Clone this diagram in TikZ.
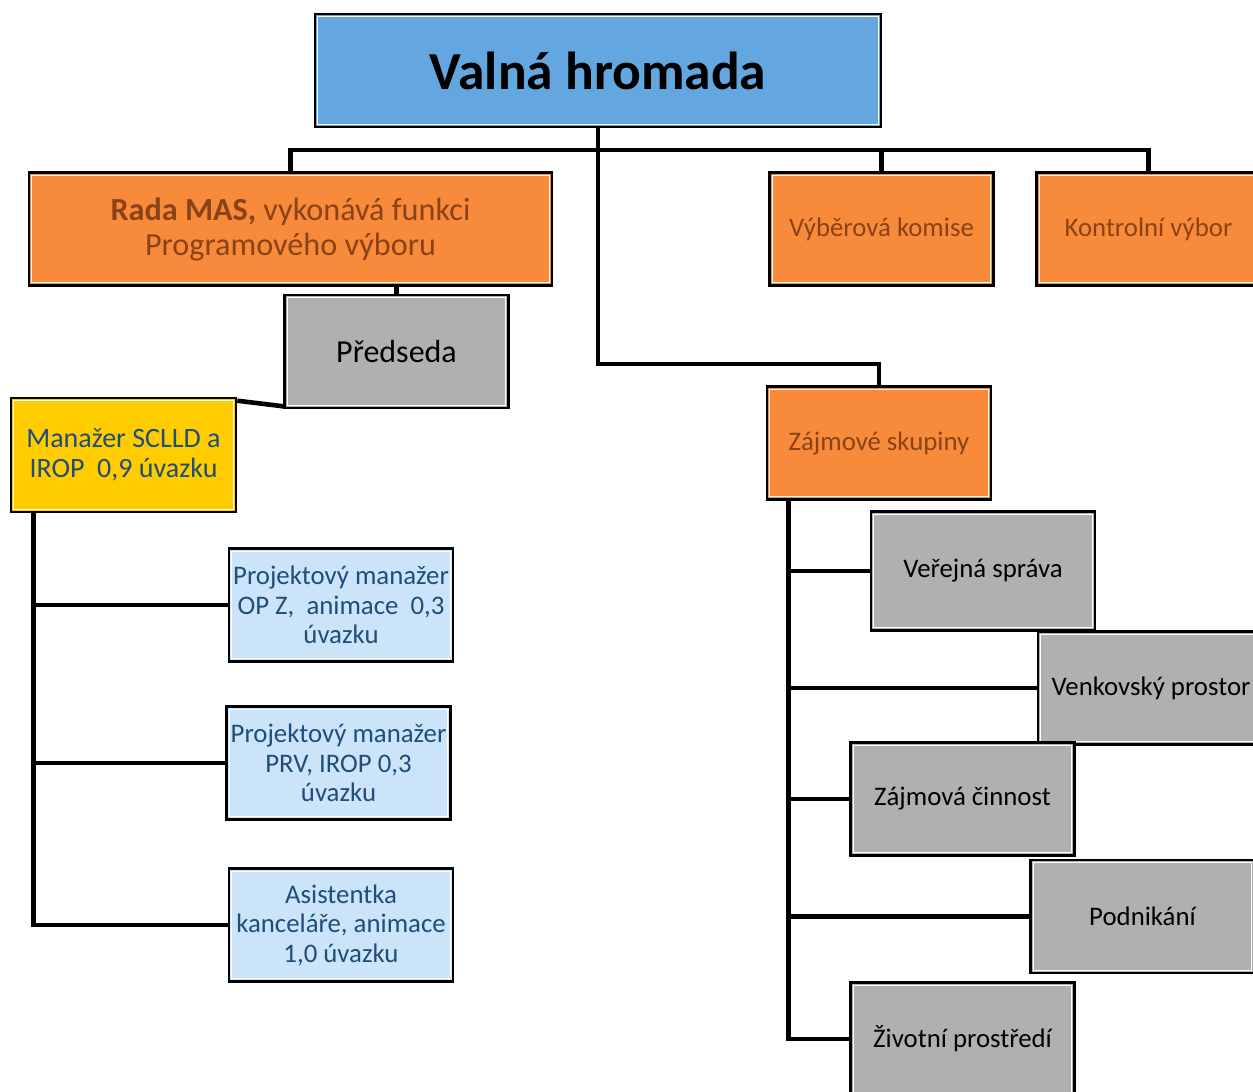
\documentclass[tikz,border=0pt]{standalone}
\usepackage{fontspec}
\setmainfont{Carlito}
\definecolor{vhblue}{HTML}{63A6E0}
\definecolor{orng}{HTML}{F88A3B}
\definecolor{gry}{HTML}{B0B0B0}
\definecolor{ylw}{HTML}{FFCC00}
\definecolor{lblue}{HTML}{CCE4FA}
\definecolor{brown}{HTML}{8A4216}
\definecolor{dblue}{HTML}{1F4E79}
\tikzset{
  box/.style={draw=black, line width=2.6pt, inner sep=0pt, align=center,
    minimum width=224pt, minimum height=113pt, anchor=center,
    font=\fontsize{26.8}{29.5}\selectfont,
    path picture={\draw[white, line width=1.1pt]
      ([shift={(2.8pt,2.8pt)}]path picture bounding box.south west) rectangle
      ([shift={(-2.8pt,-2.8pt)}]path picture bounding box.north east);}},
  orangebox/.style={box, fill=orng, text=brown},
  greybox/.style={box, fill=gry, text=black},
  bluebox/.style={box, fill=lblue, text=dblue},
  conn/.style={draw=black, line width=4.6pt}
}
\begin{document}
\begin{tikzpicture}[x=1pt,y=-1pt]
\useasboundingbox (0,0) rectangle (1253,1092);
\clip (0,0) rectangle (1253,1092);
\coordinate (bus) at (598,150);
\coordinate (zb) at (598,364);
% nodes
\node[box, fill=vhblue, text=black, minimum width=566pt, font=\fontsize{53.5}{60}\selectfont\bfseries] (vh) at (598,70.5) {Valná hromada};
\node[orangebox, minimum width=523pt, font=\fontsize{32.2}{35}\selectfont] (rada) at (290.5,229) {\textbf{Rada MAS,} vykonává funkci\\Programového výboru};
\node[orangebox] (vk) at (881.5,229) {Výběrová komise};
\node[orangebox] (kv) at (1148.5,229) {Kontrolní výbor};
\node[greybox, font=\fontsize{32}{35}\selectfont] (pr) at (396.5,351.5) {Předseda};
\node[box, fill=ylw, text=dblue, minimum width=225pt, minimum height=114pt, font=\fontsize{28}{30.5}\selectfont] (man) at (123.5,455) {Manažer SCLLD a\\IROP\ \ 0,9 úvazku};
\node[bluebox] (b1) at (341,605) {Projektový manažer\\OP Z,\ \ animace\ \ 0,3\\úvazku};
\node[bluebox] (b2) at (338.5,763) {Projektový manažer\\PRV, IROP 0,3\\úvazku};
\node[bluebox] (b3) at (341,925) {Asistentka\\kanceláře, animace\\1,0 úvazku};
\node[orangebox] (zs) at (879,443) {Zájmové skupiny};
\node[greybox, minimum height=119pt] (g1) at (983,571) {Veřejná správa};
\node[greybox, minimum width=226pt] (g2) at (1151,688) {Venkovský prostor};
\node[greybox] (g3) at (962.5,799) {Zájmová činnost};
\node[greybox] (g4) at (1142.5,916.5) {Podnikání};
\node[greybox] (g5) at (962.5,1039) {Životní prostředí};
% connectors
\draw[conn] (vh.south) -- (bus);
\draw[conn] (rada.north) |- (bus) -| (kv.north);
\draw[conn] (vk.north) -- (vk.north |- bus);
\draw[conn] (bus) -- (zb) -| (zs.north);
\draw[conn] (rada.south -| pr.north) -- (pr.north);
\draw[conn] ([yshift=3pt]pr.south west) -- ([yshift=-4pt]man.north east);
\coordinate (lt) at ([xshift=24pt]man.south west);
\draw[conn] (lt) |- (b3.west);
\draw[conn] (b1.west) -- (b1.west -| lt);
\draw[conn] (b2.west) -- (b2.west -| lt);
\coordinate (rt) at ([xshift=23pt]zs.south west);
\draw[conn] (rt) |- (g5.west);
\draw[conn] (g1.west) -- (g1.west -| rt);
\draw[conn] (g2.west) -- (g2.west -| rt);
\draw[conn] (g3.west) -- (g3.west -| rt);
\draw[conn] (g4.west) -- (g4.west -| rt);
\end{tikzpicture}
\end{document}
